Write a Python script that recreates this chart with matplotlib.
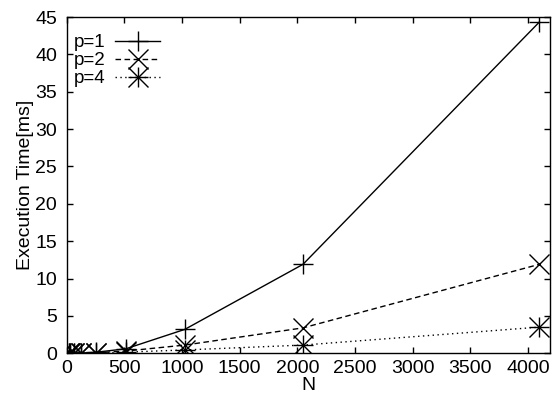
import matplotlib
matplotlib.use("Agg")
import matplotlib.pyplot as plt
from matplotlib.legend_handler import HandlerTuple

plt.rcParams['font.family'] = ['Liberation Sans', 'DejaVu Sans']

N = [16, 32, 64, 128, 256, 512, 1024, 2048, 4096]
p1 = [0.0, 0.0, 0.01, 0.03, 0.15, 0.6, 3.2, 11.9, 44.3]
p2 = [0.0, 0.0, 0.01, 0.02, 0.08, 0.3, 1.1, 3.4, 11.9]
p4 = [0.0, 0.0, 0.0, 0.01, 0.04, 0.15, 0.45, 1.1, 3.5]
labels = ["p=1", "p=2", "p=4"]
xticks = [0, 500, 1000, 1500, 2000, 2500, 3000, 3500, 4000]
yticks = [0, 5, 10, 15, 20, 25, 30, 35, 40, 45]

fig = plt.figure(figsize=(5.54, 3.94), dpi=100)
ax = fig.add_axes([66.7/554, 1-353.3/394, (550-66.7)/554, (353.3-17)/394])

ms = 15
lw = 1.0
h1, = ax.plot(N, p1, color='black', lw=lw, ls='-', marker='+', ms=ms, mew=lw)
h2, = ax.plot(N, p2, color='black', lw=lw, ls=(0, (4, 2.5)), marker='x', ms=ms, mew=lw)
h4a, = ax.plot(N, p4, color='black', lw=lw, ls=(0, (1, 2.5)), marker='+', ms=ms, mew=lw)
h4b, = ax.plot(N, p4, color='black', lw=0, ls='none', marker='x', ms=ms, mew=lw)

ax.set_xlim(0, 4190)
ax.set_ylim(0, 45)
ax.set_xticks(xticks)
ax.set_yticks(yticks)
ax.tick_params(direction='in', length=4.5, width=1, top=True, right=True, labelsize=14)
ax.tick_params(axis='x', pad=5)
ax.tick_params(axis='y', pad=7)
for s in ax.spines.values():
    s.set_linewidth(1)
ax.set_xlabel("N", fontsize=14, labelpad=0)
ax.set_ylabel("Execution Time[ms]", fontsize=14, labelpad=1)

leg = ax.legend([h1, h2, (h4a, h4b)], labels, loc='upper left', frameon=False,
                bbox_to_anchor=(0.015, 0.949), borderaxespad=0, borderpad=0,
                fontsize=13.5, handlelength=2.4, handletextpad=0.5, labelspacing=0.05,
                markerfirst=False,
                handler_map={tuple: HandlerTuple(ndivide=1)})

fig.savefig("out.png", dpi=100)
